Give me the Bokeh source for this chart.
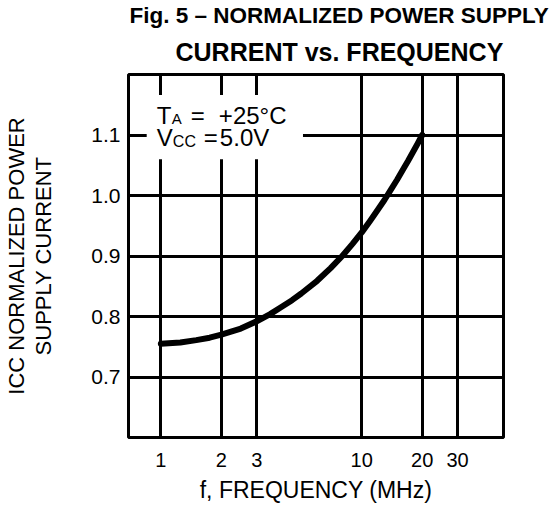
from bokeh.plotting import figure
from bokeh.models import FixedTicker, NumeralTickFormatter, Label, BoxAnnotation, Range1d, Title
from bokeh.embed import file_html
from bokeh.resources import INLINE

# ---- data ----
freq_mhz = [1, 1.25, 1.5, 1.75, 2, 2.5, 3, 3.5, 4, 4.5, 5, 6, 7, 8, 9, 10,
            11, 12, 13, 14, 15, 16, 17, 18, 19, 20]
icc_norm = [0.755, 0.757, 0.761, 0.765, 0.770, 0.780, 0.792, 0.804, 0.816, 0.827,
            0.838, 0.859, 0.880, 0.900, 0.920, 0.939, 0.958, 0.976, 0.993, 1.010,
            1.026, 1.042, 1.057, 1.072, 1.086, 1.100]
x_ticks = [1, 2, 3, 10, 20, 30]
y_ticks = [0.7, 0.8, 0.9, 1.0, 1.1]

title_lines = ["Fig. 5 \u2013  NORMALIZED POWER SUPPLY", "CURRENT vs. FREQUENCY"]
y_label = "ICC NORMALIZED POWER\nSUPPLY CURRENT"
x_label = "f, FREQUENCY (MHz)"

FONT = "Liberation Sans"

p = figure(x_axis_type="log", title=None,
           x_range=Range1d(0.69, 50.8), y_range=Range1d(0.6, 1.2),
           frame_width=375, frame_height=363,
           min_border_left=126, min_border_right=50,
           min_border_top=73, min_border_bottom=70,
           output_backend="svg", toolbar_location=None)

# two title lines, positioned from the frame's left edge
t2 = Title(text=title_lines[1], align="left", offset=47,
           text_font=FONT, text_font_size="25px", text_font_style="bold",
           text_color="black", standoff=17)
t1 = Title(text=title_lines[0], align="left", offset=1,
           text_font=FONT, text_font_size="22.5px", text_font_style="bold",
           text_color="black", standoff=0)
p.add_layout(t2, "above")
p.add_layout(t1, "above")

p.background_fill_color = "white"
p.border_fill_color = "white"
p.outline_line_color = "black"
p.outline_line_width = 3

for ax in (p.xaxis[0], p.yaxis[0]):
    ax.axis_line_color = None
    ax.major_tick_line_color = None
    ax.minor_tick_line_color = None
    ax.major_tick_out = 0
    ax.major_tick_in = 0
    ax.minor_tick_out = 0
    ax.major_label_text_font = FONT
    ax.major_label_text_color = "black"
    ax.axis_label_text_font = FONT
    ax.axis_label_text_font_style = "normal"
    ax.axis_label_text_color = "black"

p.xaxis.ticker = FixedTicker(ticks=x_ticks)
p.xaxis.formatter = NumeralTickFormatter(format="0")
p.xaxis.major_label_text_font_size = "20px"
p.xaxis.major_label_standoff = 15
p.xaxis.axis_label = x_label
p.xaxis.axis_label_text_font_size = "23px"
p.xaxis.axis_label_standoff = 7

p.yaxis.ticker = FixedTicker(ticks=y_ticks)
p.yaxis.formatter = NumeralTickFormatter(format="0.0")
p.yaxis.major_label_text_font_size = "21px"
p.yaxis.major_label_standoff = 8
p.yaxis.axis_label = y_label
p.yaxis.axis_label_text_font_size = "22px"
p.yaxis.axis_label_standoff = 32
p.yaxis.axis_label_text_line_height = 1.1

p.xgrid.grid_line_color = "black"
p.ygrid.grid_line_color = "black"
p.xgrid.grid_line_width = 3
p.ygrid.grid_line_width = 3
p.xgrid.minor_grid_line_color = None

# white area behind the condition text (interrupts the grid)
p.add_layout(BoxAnnotation(left=0.85, right=5.1, bottom=1.06, top=1.166,
                           fill_color="white", fill_alpha=1.0, line_color=None,
                           level="underlay"))

p.line(freq_mhz, icc_norm, line_color="black", line_width=6, line_cap="round",
       line_join="round")

def lab(text, xoff, y, size):
    p.add_layout(Label(x=1, y=y, x_offset=xoff, text=text, text_font=FONT,
                       text_font_size=size, text_color="black",
                       text_baseline="alphabetic", text_align="left"))

# test conditions
lab("T", -4, 1.133, "24px")
lab("A", 11, 1.1265, "15px")
lab("=", 30, 1.133, "24px")
lab("+25\u00b0C", 58, 1.133, "24px")
lab("V", -4, 1.0965, "24px")
lab("CC", 12, 1.0885, "16px")
lab("=", 43, 1.0965, "24px")
lab("5.0V", 59, 1.0965, "24px")

open("out.html", "w").write(file_html(p, INLINE))
